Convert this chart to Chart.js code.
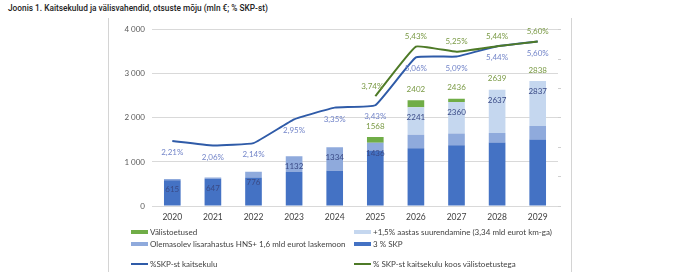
<!DOCTYPE html>
<html>
<head>
<meta charset="utf-8">
<script src="https://cdn.jsdelivr.net/npm/chart.js@4"></script>
<style>
  html, body { margin: 0; padding: 0; background: #fff; }
  body { width: 690px; height: 272px; position: relative; overflow: hidden; font-family: Lato, "Liberation Sans", sans-serif; }
  #title { position: absolute; left: 8px; top: 3px; font: 500 8.3px Roboto, sans-serif; color: #222; white-space: nowrap; }
  #frame { position: absolute; left: 108px; top: 18px; width: 462px; height: 260px; border-left: 1px solid #d4d4d4; border-right: 1px solid #d4d4d4; }
  #chartWrap { position: absolute; left: 0; top: 0; width: 462px; height: 210px; }
  .leg { position: absolute; font-size: 8px; color: #404040; white-space: nowrap; line-height: 10px; }
  .leg i { display: inline-block; width: 17px; height: 4px; vertical-align: middle; margin-right: 2px; position: relative; top: -1px; }
  .leg i.ln { height: 2px; }
</style>
</head>
<body>
<div id="title">Joonis 1. Kaitsekulud ja välisvahendid, otsuste mõju (mln €; % SKP-st)</div>
<div id="frame">
  <div id="chartWrap"><canvas id="chart"></canvas></div>
  <div class="leg" style="left:22px;top:209px"><i style="background:#70ad47"></i>Välistoetused</div>
  <div class="leg" style="left:245px;top:209px"><i style="background:#c5d7ef"></i>+1,5% aastas suurendamine (3,34 mld eurot km-ga)</div>
  <div class="leg" style="left:22px;top:221px"><i style="background:#8faadc"></i>Olemasolev lisarahastus HNS+ 1,6 mld eurot laskemoon</div>
  <div class="leg" style="left:245px;top:221px"><i style="background:#4472c4"></i>3 % SKP</div>
  <div class="leg" style="left:22px;top:241px"><i class="ln" style="background:#2f5ba8"></i>%SKP-st kaitsekulu</div>
  <div class="leg" style="left:245px;top:241px"><i class="ln" style="background:#4e7a27"></i>% SKP-st kaitsekulu koos välistoetustega</div>
</div>
<script>
const years      = ['2020','2021','2022','2023','2024','2025','2026','2027','2028','2029'];
const skp3       = [585, 620, 645, 770, 800, 1260, 1310, 1380, 1440, 1510];
const olemasolev = [30, 27, 131, 362, 534, 176, 310, 265, 220, 305];
const plus15     = [0, 0, 0, 0, 0, 0, 621, 715, 977, 1022];
const valis      = [0, 0, 0, 0, 0, 132, 161, 76, 2, 1];
const pctSkp     = [2.21, 2.06, 2.14, 2.95, 3.35, 3.43, 5.06, 5.09, 5.44, 5.60];
const pctValis   = [null, null, null, null, null, 3.74, 5.43, 5.25, 5.44, 5.60];
const yTicks     = [0, 1000, 2000, 3000, 4000];

const FONT = 'Lato, "Liberation Sans", sans-serif';

const fmtPct = v => v.toFixed(2).replace('.', ',') + '%';
const fmtThousand = v => String(v).replace(/\B(?=(\d{3})+(?!\d))/g, ' ');

// draws the value labels like the Excel original
const labelPlugin = {
  id: 'labels',
  afterDatasetsDraw(chart) {
    const { ctx, scales } = chart;
    const x = scales.x, y = scales.y, y1 = scales.y1;
    ctx.save();
    ctx.font = '8px ' + FONT;
    ctx.textAlign = 'center';
    ctx.textBaseline = 'middle';
    years.forEach((yr, i) => {
      const cx = x.getPixelForValue(i);
      const blue = skp3[i] + olemasolev[i] + plus15[i];
      ctx.fillStyle = '#3a4a86';
      ctx.fillText(blue, cx, y.getPixelForValue(blue) + 10.5);
      if (valis[i] > 0) {
        const tot = blue + valis[i];
        ctx.fillStyle = '#7a9a45';
        ctx.fillText(tot, cx, y.getPixelForValue(tot) - 11);
      }
      ctx.fillStyle = '#7385c9';
      ctx.fillText(fmtPct(pctSkp[i]), cx, y1.getPixelForValue(pctSkp[i]) + 11.5);
      if (pctValis[i] != null) {
        ctx.fillStyle = '#7a9a45';
        ctx.fillText(fmtPct(pctValis[i]), cx - (i === 5 ? 3 : 0), y1.getPixelForValue(pctValis[i]) - 10);
      }
    });
    ctx.restore();
  }
};

const barCommon = { stack: 's', yAxisID: 'y', barPercentage: 0.41, categoryPercentage: 1, order: 2 };

new Chart(document.getElementById('chart'), {
  data: {
    labels: years,
    datasets: [
      { type: 'bar', label: '3 % SKP', data: skp3, backgroundColor: '#4472c4', ...barCommon },
      { type: 'bar', label: 'Olemasolev lisarahastus HNS+ 1,6 mld eurot laskemoon', data: olemasolev, backgroundColor: '#8faadc', ...barCommon },
      { type: 'bar', label: '+1,5% aastas suurendamine (3,34 mld eurot km-ga)', data: plus15, backgroundColor: '#c5d7ef', ...barCommon },
      { type: 'bar', label: 'Välistoetused', data: valis, backgroundColor: '#70ad47', ...barCommon },
      { type: 'line', label: '%SKP-st kaitsekulu', data: pctSkp, yAxisID: 'y1', borderColor: '#2f5ba8', borderWidth: 2, pointRadius: 0, tension: 0.1, order: 1 },
      { type: 'line', label: '% SKP-st kaitsekulu koos välistoetustega', data: pctValis, yAxisID: 'y1', borderColor: '#4e7a27', borderWidth: 2, pointRadius: 0, tension: 0.1, order: 0 }
    ]
  },
  options: {
    responsive: true,
    maintainAspectRatio: false,
    animation: false,
    layout: { padding: { top: 8 } },
    plugins: { legend: { display: false }, tooltip: { enabled: false } },
    scales: {
      x: {
        stacked: true,
        grid: { display: false },
        border: { display: false },
        ticks: { color: '#404040', font: { family: FONT, size: 8.5 }, padding: -2, maxRotation: 0 },
        afterFit: s => { s.height = 22; }
      },
      y: {
        stacked: true,
        min: 0, max: 4000,
        afterBuildTicks: s => { s.ticks = yTicks.map(v => ({ value: v })); },
        grid: { color: '#d9d9d9', drawTicks: false },
        border: { display: false },
        ticks: { color: '#595959', font: { family: FONT, size: 8 }, padding: 7, callback: v => fmtThousand(v) },
        afterFit: s => { s.width = 43; }
      },
      y1: {
        position: 'right',
        min: 0, max: 6,
        grid: { drawOnChartArea: false, color: '#d0d0d0', tickLength: 3 },
        border: { display: false },
        ticks: { display: false, stepSize: 1 },
        afterFit: s => { s.width = 13; }
      }
    }
  },
  plugins: [labelPlugin]
});
</script>
</body>
</html>
